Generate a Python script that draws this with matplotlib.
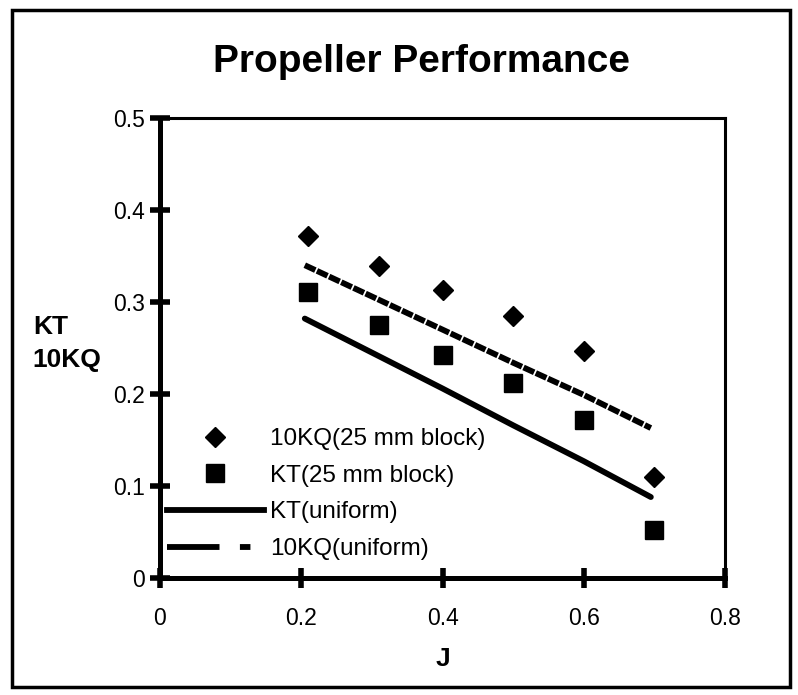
import matplotlib
matplotlib.use("Agg")
import matplotlib.pyplot as plt
from matplotlib.lines import Line2D
from matplotlib.patches import Rectangle

plt.rcParams['font.family'] = ['Liberation Sans', 'DejaVu Sans']

# data
j_block = [0.21, 0.31, 0.40, 0.50, 0.60, 0.70]
kq10_block = [0.372, 0.339, 0.313, 0.285, 0.247, 0.110]
kt_block = [0.311, 0.275, 0.242, 0.212, 0.172, 0.052]

j_uniform = [0.205, 0.30, 0.40, 0.50, 0.60, 0.695]
kt_uniform = [0.282, 0.245, 0.206, 0.166, 0.127, 0.088]
kq10_uniform = [0.340, 0.306, 0.270, 0.234, 0.199, 0.163]

x_ticks = [0, 0.2, 0.4, 0.6, 0.8]
y_ticks = [0, 0.1, 0.2, 0.3, 0.4, 0.5]

W, H = 798, 695
fig = plt.figure(figsize=(W / 100, H / 100), dpi=100)
ax = fig.add_axes([160 / W, 1 - 578 / H, (725 - 160) / W, (578 - 118) / H])

ax.plot(j_block, kq10_block, linestyle='none', marker='D', ms=10, color='black')
ax.plot(j_block, kt_block, linestyle='none', marker='s', ms=13, color='black')
ax.plot(j_uniform, kt_uniform, color='black', lw=4.2, solid_capstyle='round')
ax.plot(j_uniform, kq10_uniform, color='black', lw=4.2, dashes=(2.0, 0.3),
        dash_capstyle='butt')

ax.set_xlim(0, 0.8)
ax.set_ylim(0, 0.5)
ax.set_xticks(x_ticks)
ax.set_xticklabels(['0', '0.2', '0.4', '0.6', '0.8'])
ax.set_yticks(y_ticks)
ax.set_yticklabels(['0', '0.1', '0.2', '0.3', '0.4', '0.5'])
ax.tick_params(direction='inout', length=14, width=4, labelsize=16.5, pad=4)
ax.tick_params(axis='x', pad=14)

for side in ['left', 'bottom']:
    ax.spines[side].set_linewidth(3.6)
for side in ['top', 'right']:
    ax.spines[side].set_linewidth(2.2)

ax.set_xlabel('J', fontsize=19, fontweight='bold', labelpad=12)
ax.set_ylabel('KT\n10KQ', fontsize=19, fontweight='bold', rotation=0,
              ha='left', va='center', multialignment='left', linespacing=1.45)
ax.yaxis.set_label_coords(-0.225, 0.51)

fig.text(421 / W, 1 - 62 / H, 'Propeller Performance', fontsize=28,
         fontweight='bold', ha='center', va='center')

handles = [
    Line2D([], [], linestyle='none', marker='D', ms=10, color='black'),
    Line2D([], [], linestyle='none', marker='s', ms=13, color='black'),
    Line2D([], [], color='black', lw=4.2),
    Line2D([], [], color='black', lw=4.2, dashes=(9, 3.5, 1.8, 20)),
]
labels = ['10KQ(25 mm block)', 'KT(25 mm block)', 'KT(uniform)', '10KQ(uniform)']
ax.legend(handles, labels, loc='upper left', bbox_to_anchor=(-0.01, 0.352),
          frameon=False, fontsize=17.5, handlelength=4.0, handletextpad=0.25,
          labelspacing=0.6, borderpad=0)

fig.patches.append(Rectangle((12 / W, 1 - 687 / H), (790 - 12) / W, (687 - 10) / H,
                             transform=fig.transFigure, fill=False,
                             edgecolor='black', lw=2.5))

fig.savefig('out.png', dpi=100)
